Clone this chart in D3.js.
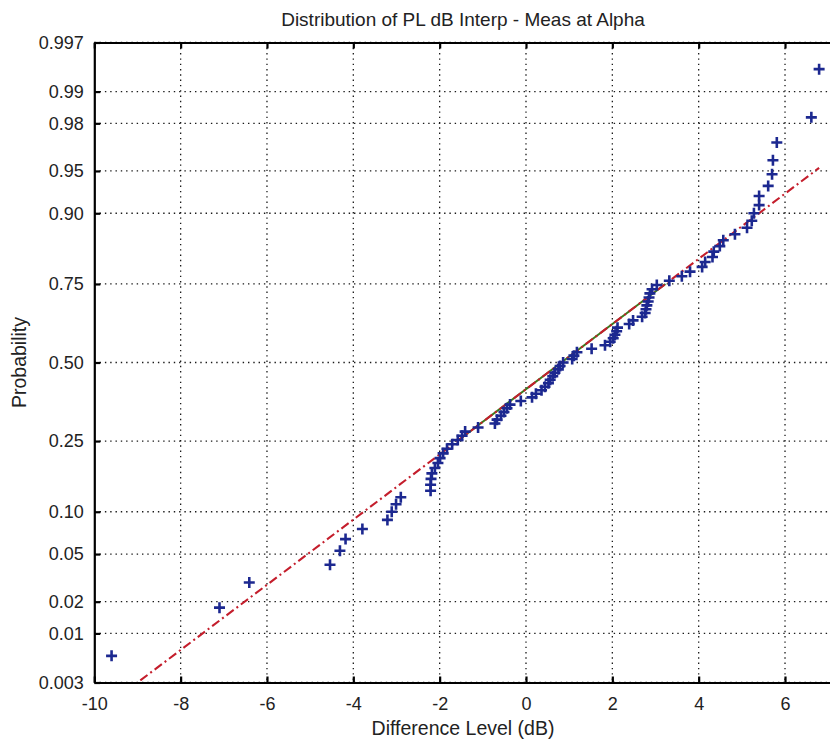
<!DOCTYPE html>
<html>
<head>
<meta charset="utf-8">
<script src="https://cdn.jsdelivr.net/npm/d3@7"></script>
<style>
  html, body { margin: 0; padding: 0; background: #fff; }
  svg { display: block; font-family: "Liberation Sans", Arial, sans-serif; }
</style>
</head>
<body>
<svg id="chart" width="830" height="740"></svg>
<script>
// ---- data ----
const chartTitle = "Distribution of PL dB Interp - Meas at Alpha";
const xLabel = "Difference Level (dB)";
const yLabel = "Probability";
const xTicks = [-10, -8, -6, -4, -2, 0, 2, 4, 6];
const probTicks = [0.003, 0.01, 0.02, 0.05, 0.10, 0.25, 0.50, 0.75, 0.90, 0.95, 0.98, 0.99, 0.997];
const probTickLabels = ["0.003", "0.01", "0.02", "0.05", "0.10", "0.25", "0.50", "0.75", "0.90", "0.95", "0.98", "0.99", "0.997"];
// sorted sample values (dB), one per plotted "+"
const diffValues = [
  -9.60, -7.10, -6.41, -4.54, -4.31, -4.18, -3.79, -3.21, -3.11, -3.01,
  -2.90, -2.21, -2.21, -2.20, -2.18, -2.11, -2.04, -1.99, -1.92, -1.83,
  -1.71, -1.58, -1.48, -1.41, -1.11, -0.72, -0.67, -0.58, -0.51, -0.44,
  -0.37, -0.12, 0.14, 0.23, 0.36, 0.44, 0.52, 0.56, 0.62, 0.67,
  0.75, 0.79, 0.86, 1.07, 1.11, 1.18, 1.52, 1.83, 1.95, 2.02,
  2.06, 2.10, 2.12, 2.39, 2.48, 2.69, 2.76, 2.78, 2.80, 2.83,
  2.85, 2.87, 2.92, 3.03, 3.32, 3.61, 3.80, 4.08, 4.15, 4.32,
  4.35, 4.49, 4.57, 4.84, 5.12, 5.23, 5.28, 5.40, 5.40, 5.61,
  5.70, 5.72, 5.81, 6.61, 6.79
];
// x positions where the reference line meets p = 0.25 and p = 0.75
const fitQuartileX = [-1.59, 3.23];
const fitQuartileP = [0.25, 0.75];

// ---- inverse normal CDF (probability-paper transform) ----
function norminv(p) {
  const a = [-3.969683028665376e+01, 2.209460984245205e+02, -2.759285104469687e+02, 1.383577518672690e+02, -3.066479806614716e+01, 2.506628277459239e+00];
  const b = [-5.447609879822406e+01, 1.615858368580409e+02, -1.556989798598866e+02, 6.680131188771972e+01, -1.328068155288572e+01];
  const c = [-7.784894002430293e-03, -3.223964580411365e-01, -2.400758277161838e+00, -2.549732539343734e+00, 4.374664141464968e+00, 2.938163982698783e+00];
  const d = [7.784695709041462e-03, 3.224671290700398e-01, 2.445134137142996e+00, 3.754408661907416e+00];
  const pl = 0.02425, ph = 1 - pl;
  let q, r;
  if (p < pl) {
    q = Math.sqrt(-2 * Math.log(p));
    return (((((c[0]*q+c[1])*q+c[2])*q+c[3])*q+c[4])*q+c[5]) / ((((d[0]*q+d[1])*q+d[2])*q+d[3])*q+1);
  }
  if (p > ph) {
    q = Math.sqrt(-2 * Math.log(1 - p));
    return -(((((c[0]*q+c[1])*q+c[2])*q+c[3])*q+c[4])*q+c[5]) / ((((d[0]*q+d[1])*q+d[2])*q+d[3])*q+1);
  }
  q = p - 0.5; r = q * q;
  return (((((a[0]*r+a[1])*r+a[2])*r+a[3])*r+a[4])*r+a[5])*q / (((((b[0]*r+b[1])*r+b[2])*r+b[3])*r+b[4])*r+1);
}

// ---- layout ----
const L = 94.3, R = 832.5, T = 42.5, B = 682.5;
const svg = d3.select("#chart");

const x = d3.scaleLinear().domain([-10, 7.1]).range([L, R]);
const yz = d3.scaleLinear()
  .domain([norminv(probTicks[0]), norminv(probTicks[probTicks.length - 1])])
  .range([B, T]);
const yp = p => yz(norminv(p));

svg.append("defs").append("clipPath").attr("id", "plotclip")
  .append("rect").attr("x", L).attr("y", T).attr("width", R - L).attr("height", B - T);

// grid
const grid = svg.append("g").attr("stroke", "#1a1a1a").attr("stroke-width", 1.3)
  .attr("stroke-dasharray", "1.4,3.9");
grid.selectAll("line.v").data(xTicks.slice(1)).join("line")
  .attr("x1", d => x(d)).attr("x2", d => x(d)).attr("y1", T).attr("y2", B);
grid.selectAll("line.h").data(probTicks).join("line")
  .attr("x1", L).attr("x2", R).attr("y1", d => yp(d)).attr("y2", d => yp(d));

// reference line
const n = diffValues.length;
const zq1 = norminv(fitQuartileP[0]), zq3 = norminv(fitQuartileP[1]);
const slope = (zq3 - zq1) / (fitQuartileX[1] - fitQuartileX[0]);
const zAt = v => zq1 + slope * (v - fitQuartileX[0]);
const xMin = d3.min(diffValues), xMax = d3.max(diffValues);
const lines = svg.append("g").attr("clip-path", "url(#plotclip)");
lines.append("line")
  .attr("x1", x(fitQuartileX[0])).attr("y1", yz(zq1))
  .attr("x2", x(fitQuartileX[1])).attr("y2", yz(zq3))
  .attr("stroke", "#3d7a1c").attr("stroke-width", 2);
lines.append("line")
  .attr("x1", x(xMin)).attr("y1", yz(zAt(xMin)))
  .attr("x2", x(xMax)).attr("y2", yz(zAt(xMax)))
  .attr("stroke", "#c41e2c").attr("stroke-width", 2.1)
  .attr("stroke-dasharray", "9,3.5,2,3.5");

// points: plotting positions (i - 0.5)/n as in a normal probability plot
svg.append("g").attr("clip-path", "url(#plotclip)")
  .selectAll("path").data(diffValues).join("path")
  .attr("transform", (d, i) => `translate(${x(d)},${yp((i + 0.5) / n)})`)
  .attr("d", "M-5.5,0H5.5M0,-5.5V5.5")
  .attr("stroke", "#1c2890").attr("stroke-width", 2.6).attr("fill", "none");

// axes
function styleAxis(g) {
  g.select(".domain").attr("stroke", "#000").attr("stroke-width", 2.2);
  g.selectAll(".tick line").attr("stroke", "#000").attr("stroke-width", 2.2);
  g.selectAll(".tick text").attr("fill", "#222").style("font-size", "18px")
    .style("font-family", "'Liberation Sans', Arial, sans-serif");
}
svg.append("g").attr("transform", `translate(0,${B})`)
  .call(d3.axisBottom(x).tickValues(xTicks).tickFormat(d => String(d))
    .tickSizeInner(-6).tickSizeOuter(0).tickPadding(14.5))
  .call(styleAxis);
svg.append("g").attr("transform", `translate(0,${T})`)
  .call(d3.axisTop(x).tickValues(xTicks).tickFormat("")
    .tickSizeInner(-6).tickSizeOuter(0))
  .call(styleAxis);
svg.append("g").attr("transform", `translate(${L},0)`)
  .call(d3.axisLeft(yz).tickValues(probTicks.map(norminv))
    .tickFormat((d, i) => probTickLabels[i])
    .tickSizeInner(-6).tickSizeOuter(0).tickPadding(10.5))
  .call(styleAxis);

// texts
svg.append("text").attr("x", 463).attr("y", 26).attr("text-anchor", "middle")
  .attr("fill", "#222").style("font-size", "19px").text(chartTitle);
svg.append("text").attr("x", 463).attr("y", 735).attr("text-anchor", "middle")
  .attr("fill", "#222").style("font-size", "19.5px").text(xLabel);
svg.append("text").attr("transform", `translate(25.5,${(T + B) / 2}) rotate(-90)`)
  .attr("text-anchor", "middle").attr("fill", "#222").style("font-size", "19.5px").text(yLabel);
</script>
</body>
</html>
